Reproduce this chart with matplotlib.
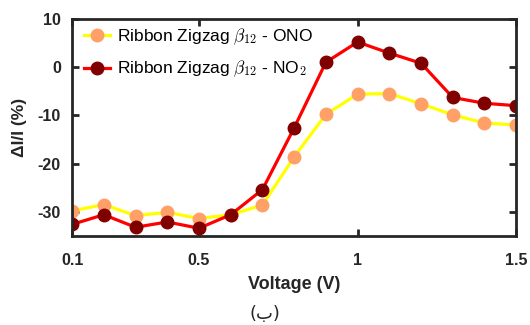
import matplotlib.pyplot as plt

plt.rcParams['font.family'] = ['Liberation Sans', 'DejaVu Sans']
plt.rcParams['mathtext.fontset'] = 'cm'
plt.rcParams['axes.unicode_minus'] = False

voltage = [0.1, 0.2, 0.3, 0.4, 0.5, 0.6, 0.7, 0.8, 0.9, 1.0, 1.1, 1.2, 1.3, 1.4, 1.5]
ono = [-29.8, -28.5, -30.8, -30.1, -31.4, -30.6, -28.6, -18.6, -9.8, -5.6, -5.5, -7.6, -9.9, -11.6, -12.0]
no2 = [-32.6, -30.6, -33.2, -32.1, -33.4, -30.6, -25.4, -12.6, 1.0, 5.2, 2.9, 0.8, -6.3, -7.5, -8.0]

xticks = [0.1, 0.5, 1, 1.5]
xtick_labels = ['0.1', '0.5', '1', '1.5']
yticks = [-30, -20, -10, 0, 10]

fig = plt.figure(figsize=(5.3, 3.25), dpi=100)
ax = fig.add_axes([0.136, 0.274, 0.838, 0.668])

ax.plot(voltage, ono, color='#ffff00', lw=2.3, marker='o', ms=9,
        mfc='#ffa066', mec='#ffa066', label=r'Ribbon Zigzag $\beta_{12}$ - ONO')
ax.plot(voltage, no2, color='#ff0000', lw=2.3, marker='o', ms=9,
        mfc='#800000', mec='#800000', label=r'Ribbon Zigzag $\beta_{12}$ - NO$_2$')

ax.set_xlim(0.1, 1.5)
ax.set_ylim(-35, 10)
ax.set_xticks(xticks)
ax.set_xticklabels(xtick_labels)
ax.set_yticks(yticks)

for s in ax.spines.values():
    s.set_linewidth(2)
    s.set_color('#262626')
ax.tick_params(direction='in', width=2, length=5, top=True, right=True,
               labelsize=11.5, colors='#262626')
ax.tick_params(axis='x', pad=12)
ax.tick_params(axis='y', pad=8)
for lab in ax.get_xticklabels() + ax.get_yticklabels():
    lab.set_fontweight('bold')

ax.set_xlabel('Voltage (V)', fontsize=13, fontweight='bold', labelpad=6,
              color='#262626')
ax.set_ylabel('ΔI/I (%)', fontsize=12.5, fontweight='bold', labelpad=8,
              color='#262626')

ax.legend(loc='upper left', bbox_to_anchor=(0.0, 1.02), frameon=False,
          fontsize=12.5, handlelength=1.5, handletextpad=0.4,
          borderaxespad=0.3, labelspacing=0.68)

fig.text(0.5, 0.035, '(ب)', ha='center', va='center', fontsize=13,
         family=['DejaVu Sans'], color='#262626')

fig.savefig('out.png', dpi=100)
